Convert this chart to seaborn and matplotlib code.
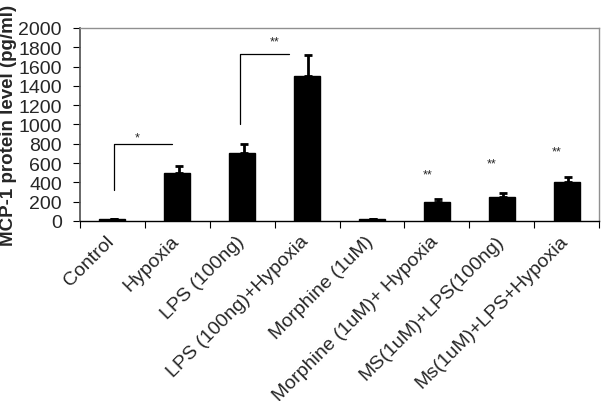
import matplotlib
matplotlib.use("Agg")
import matplotlib.pyplot as plt
import matplotlib.transforms as mtransforms
import seaborn as sns
import pandas as pd
import numpy as np

categories = ["Control", "Hypoxia", "LPS (100ng)", "LPS (100ng)+Hypoxia",
              "Morphine (1uM)", "Morphine (1uM)+ Hypoxia",
              "MS(1uM)+LPS(100ng)", "Ms(1uM)+LPS+Hypoxia"]
values = [15, 500, 700, 1500, 15, 200, 250, 400]
errors = [5, 70, 100, 220, 5, 25, 35, 50]
yticks = [0, 200, 400, 600, 800, 1000, 1200, 1400, 1600, 1800, 2000]

sns.set_theme(style="white")
plt.rcParams['font.family'] = ['Liberation Sans', 'DejaVu Sans']

df = pd.DataFrame({"cat": categories, "val": values})

fig = plt.figure(figsize=(6.01, 4.02), dpi=100)
ax = fig.add_axes([0.133, 0.448, 0.864, 0.480])
sns.barplot(data=df, x="cat", y="val", color="black", width=0.4,
            saturation=1, ax=ax, errorbar=None)
for p in ax.patches:
    p.set_edgecolor("black")
xs = np.arange(len(categories))
ax.errorbar(xs + 0.02, values, yerr=[np.zeros(len(errors)), errors], fmt="none",
            ecolor="black", elinewidth=2, capsize=3, capthick=2)

ax.set_xlim(-0.5, len(categories) - 0.5)
ax.set_ylim(0, 2000)
ax.set_yticks(yticks)
ax.set_yticklabels([str(t) for t in yticks], fontsize=14)
ax.set_xticks(np.arange(-0.5, len(categories), 1.0))
ax.set_xticklabels([])
ax.set_xticks(xs, minor=True)
ax.set_xticklabels(categories, minor=True, rotation=45, ha="right",
                   rotation_mode="anchor", fontsize=14)
ax.tick_params(axis="x", which="major", length=5, width=0.8, color="black", bottom=True)
ax.tick_params(axis="x", which="minor", length=0, pad=8)
ax.tick_params(axis="y", length=5, width=0.8, color="black", left=True, pad=8)
ax.set_xlabel("")
ax.set_ylabel("MCP-1 protein level (pg/ml)", fontsize=13.5, fontweight="bold", labelpad=1)

offset = mtransforms.ScaledTranslation(-7 / 100, 0, fig.dpi_scale_trans)
for lbl in ax.get_xticklabels(minor=True):
    lbl.set_transform(lbl.get_transform() + offset)

for side in ["top", "right"]:
    ax.spines[side].set_visible(True)
    ax.spines[side].set_color("#909090")
    ax.spines[side].set_linewidth(1.0)
ax.spines["left"].set_color("#555555")
ax.spines["bottom"].set_color("black")
ax.spines["bottom"].set_linewidth(1.0)

# significance brackets
ax.plot([0.03, 0.03, 0.92], [320, 800, 800], color="black", lw=0.9)
ax.text(0.38, 860, "*", ha="center", va="center", fontsize=9)
ax.plot([1.97, 1.97, 2.72], [1000, 1730, 1730], color="black", lw=0.9)
ax.text(2.5, 1860, "**", ha="center", va="center", fontsize=9)
for xi, yi in [(5, 480), (6, 600), (7, 720)]:
    ax.text(xi - 0.15, yi, "**", ha="center", va="center", fontsize=9)

fig.savefig("out.png", dpi=100)
